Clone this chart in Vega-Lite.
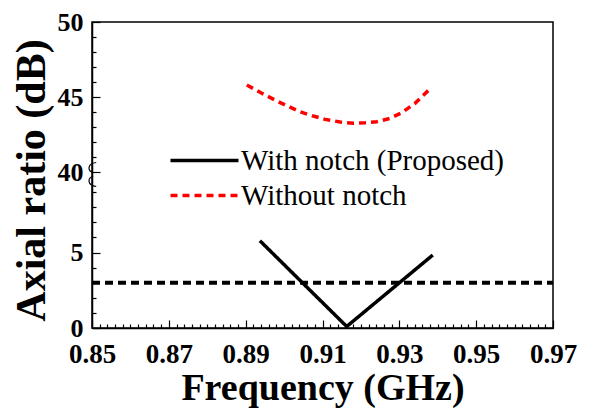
{
  "$schema": "https://vega.github.io/schema/vega-lite/v6.json",
  "width": 461,
  "height": 306,
  "autosize": "none",
  "padding": {"left": 92, "top": 22, "right": 41, "bottom": 84},
  "background": "white",
  "config": {
    "font": "Liberation Serif",
    "view": {"stroke": "black", "strokeWidth": 1.5},
    "axis": {"grid": false, "domainColor": "black", "tickColor": "black", "labelColor": "black", "titleColor": "black", "domainWidth": 1.5, "tickWidth": 1.2, "labelFont": "Liberation Serif", "titleFont": "Liberation Serif"},
    "legend": {"labelFont": "Liberation Serif"}
  },
  "datasets": {
    "curves": [
      {"f": 0.8937, "ar": 5.78, "series": "With notch (Proposed)"},
      {"f": 0.9163, "ar": 0.1, "series": "With notch (Proposed)"},
      {"f": 0.9387, "ar": 4.83, "series": "With notch (Proposed)"},
      {"f": 0.8903, "ar": 45.8, "series": "Without notch"},
      {"f": 0.8942, "ar": 45.25, "series": "Without notch"},
      {"f": 0.8976, "ar": 44.8, "series": "Without notch"},
      {"f": 0.9007, "ar": 44.42, "series": "Without notch"},
      {"f": 0.9041, "ar": 44.02, "series": "Without notch"},
      {"f": 0.9076, "ar": 43.73, "series": "Without notch"},
      {"f": 0.9107, "ar": 43.51, "series": "Without notch"},
      {"f": 0.9146, "ar": 43.33, "series": "Without notch"},
      {"f": 0.918, "ar": 43.25, "series": "Without notch"},
      {"f": 0.9211, "ar": 43.29, "series": "Without notch"},
      {"f": 0.9241, "ar": 43.35, "series": "Without notch"},
      {"f": 0.9276, "ar": 43.58, "series": "Without notch"},
      {"f": 0.9306, "ar": 43.95, "series": "Without notch"},
      {"f": 0.9341, "ar": 44.58, "series": "Without notch"},
      {"f": 0.938, "ar": 45.55, "series": "Without notch"}
    ],
    "threshold": [
      {"f": 0.85, "ar": 3},
      {"f": 0.97, "ar": 3}
    ],
    "brk": [
      {"f": 0.85, "ar": 25}
    ]
  },
  "resolve": {"axis": {"x": "independent", "y": "independent"}},
  "layer": [
    {
      "data": {"name": "curves"},
      "mark": {"type": "line", "interpolate": "linear", "strokeWidth": 3.5},
      "encoding": {
        "x": {
          "field": "f", "type": "quantitative",
          "scale": {"domain": [0.85, 0.97], "nice": false, "zero": false},
          "axis": {
            "orient": "bottom",
            "values": [0.85, 0.87, 0.89, 0.91, 0.93, 0.95, 0.97],
            "format": ".2f",
            "tickSize": -8,
            "labelPadding": 21,
            "labelFont": "Liberation Serif", "labelFontWeight": "bold", "labelFontSize": 27,
            "labelFlush": false, "labelOverlap": false,
            "title": "Frequency (GHz)",
            "titleFont": "Liberation Serif", "titleFontWeight": "bold", "titleFontSize": 38,
            "titlePadding": 2
          }
        },
        "y": {
          "field": "ar", "type": "quantitative",
          "scale": {"domain": [0, 10, 40, 50], "range": [306, 155, 150, 0], "nice": false, "zero": false},
          "axis": {
            "orient": "left",
            "values": [0, 5, 40, 45, 50],
            "tickSize": -8,
            "labelPadding": 17,
            "labelFont": "Liberation Serif", "labelFontWeight": "bold", "labelFontSize": 26,
            "labelFlush": false, "labelOverlap": false,
            "title": "Axial ratio (dB)",
            "titleFont": "Liberation Serif", "titleFontWeight": "bold", "titleFontSize": 42,
            "titlePadding": 4,
            "titleY": 158
          }
        },
        "color": {
          "field": "series", "type": "nominal",
          "scale": {"domain": ["With notch (Proposed)", "Without notch"], "range": ["#000000", "#ff0000"]},
          "legend": {
            "orient": "none", "legendX": 98, "legendY": 124, "title": null,
            "symbolType": "M -3 0 L 3 0", "symbolSize": 514, "symbolStrokeWidth": 3.5,
            "symbolFillColor": "transparent",
            "labelFont": "Liberation Serif", "labelFontSize": 29, "labelColor": "black",
            "labelOffset": 22, "rowPadding": 5, "labelLimit": 400
          }
        },
        "strokeDash": {
          "field": "series", "type": "nominal",
          "scale": {"domain": ["With notch (Proposed)", "Without notch"], "range": [[1, 0], [7, 5]]},
          "legend": {
            "orient": "none", "legendX": 98, "legendY": 124, "title": null,
            "symbolType": "M -3 0 L 3 0", "symbolSize": 514, "symbolStrokeWidth": 3.5,
            "symbolFillColor": "transparent",
            "labelFont": "Liberation Serif", "labelFontSize": 29, "labelColor": "black",
            "labelOffset": 22, "rowPadding": 5, "labelLimit": 400
          }
        }
      }
    },
    {
      "data": {"name": "threshold"},
      "mark": {"type": "line", "color": "black", "strokeWidth": 4, "strokeDash": [8, 5]},
      "encoding": {
        "x": {
          "field": "f", "type": "quantitative",
          "axis": {
            "orient": "bottom",
            "values": [0.852, 0.854, 0.856, 0.858, 0.86, 0.862, 0.864, 0.866, 0.868, 0.872, 0.874, 0.876, 0.878, 0.88, 0.882, 0.884, 0.886, 0.888, 0.892, 0.894, 0.896, 0.898, 0.9, 0.902, 0.904, 0.906, 0.908, 0.912, 0.914, 0.916, 0.918, 0.92, 0.922, 0.924, 0.926, 0.928, 0.932, 0.934, 0.936, 0.938, 0.94, 0.942, 0.944, 0.946, 0.948, 0.952, 0.954, 0.956, 0.958, 0.96, 0.962, 0.964, 0.966, 0.968],
            "tickSize": -4, "labels": false, "domain": false, "title": null
          }
        },
        "y": {
          "field": "ar", "type": "quantitative",
          "axis": {
            "orient": "left",
            "values": [1, 2, 3, 4, 6, 7, 8, 9, 41, 42, 43, 44, 46, 47, 48, 49],
            "tickSize": -4, "labels": false, "domain": false, "title": null
          }
        }
      }
    },
    {
      "data": {"name": "brk"},
      "mark": {
        "type": "point", "filled": false, "stroke": "black", "strokeWidth": 1.2, "opacity": 1,
        "size": 576,
        "shape": "M 0.35 -1 C -0.4 -0.9 -0.4 -0.3 0.1 -0.15 M 0.1 0.15 C -0.4 0.3 -0.4 0.9 0.35 1"
      },
      "encoding": {
        "x": {"field": "f", "type": "quantitative", "axis": null},
        "y": {"field": "ar", "type": "quantitative", "axis": null}
      }
    }
  ]
}
